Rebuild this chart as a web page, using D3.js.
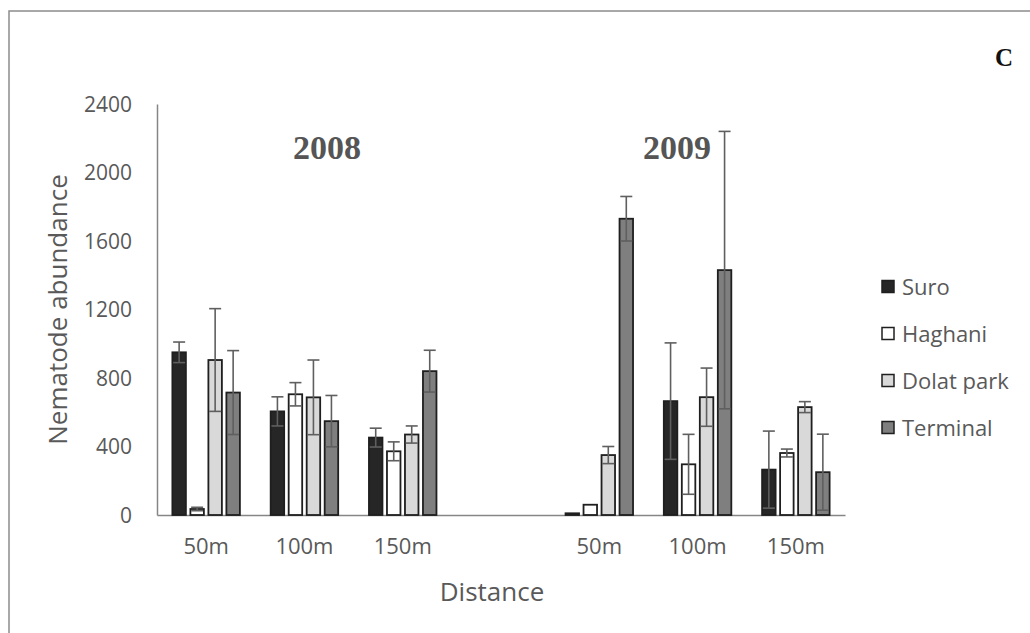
<!DOCTYPE html>
<html>
<head>
<meta charset="utf-8">
<script src="https://cdn.jsdelivr.net/npm/d3@7/dist/d3.min.js"></script>
<style>
  body { margin: 0; background: #fff; }
  svg { display: block; }
  .axis text { font-family: "Open Sans", sans-serif; font-size: 21px; fill: #595959; }
  .axis path { stroke: #868686; stroke-width: 1.5; }
</style>
</head>
<body>
<svg id="chart"></svg>
<script>
const YEARS = ['2008', '2009'];
const DISTANCES = ['50m', '100m', '150m'];
const SERIES = ['Suro', 'Haghani', 'Dolat park', 'Terminal'];
const COLORS = ['#262626', '#ffffff', '#d9d9d9', '#7f7f7f'];

// values: 2008 (50m,100m,150m) then 2009 (50m,100m,150m)
const SURO = [950, 605, 452, 10, 665, 265];
const HAGHANI = [35, 705, 372, 60, 296, 362];
const DOLAT = [905, 687, 470, 350, 688, 630];
const TERMINAL = [715, 548, 840, 1730, 1430, 250];

const SURO_SE = [60, 85, 55, 0, 340, 225];
const HAGHANI_SE = [10, 68, 55, 0, 175, 23];
const DOLAT_SE = [300, 218, 50, 50, 170, 32];
const TERMINAL_SE = [245, 150, 122, 130, 810, 222];

const Y_TICKS = [0, 400, 800, 1200, 1600, 2000, 2400];

const W = 1030, H = 633;
const M = { left: 157, right: 845, top: 104, bottom: 515 };

const svg = d3.select('#chart').attr('width', W).attr('height', H);

// outer frame
svg.append('rect')
   .attr('x', 9).attr('y', 11)
   .attr('width', W + 20).attr('height', H + 20)
   .attr('fill', 'none').attr('stroke', '#8c8c8c').attr('stroke-width', 1.5);

// categories with an empty slot between the two years
const keys = [];
YEARS.forEach((yr, i) => {
  if (i > 0) keys.push('gap');
  DISTANCES.forEach(d => keys.push(yr + '|' + d));
});

const valuesBySeries = [SURO, HAGHANI, DOLAT, TERMINAL];
const errBySeries = [SURO_SE, HAGHANI_SE, DOLAT_SE, TERMINAL_SE];

const data = [];
YEARS.forEach((yr, yi) => {
  DISTANCES.forEach((d, di) => {
    const idx = yi * DISTANCES.length + di;
    SERIES.forEach((s, si) => {
      data.push({ key: yr + '|' + d, series: s, si: si,
                  value: valuesBySeries[si][idx], se: errBySeries[si][idx] });
    });
  });
});

const x = d3.scaleBand().domain(keys).range([M.left, M.right]).padding(0);
const xInner = d3.scaleBand().domain(SERIES).range([0, x.bandwidth()])
                 .paddingInner(0.25).paddingOuter(0.855);
const y = d3.scaleLinear().domain([0, 2400]).range([M.bottom, M.top]);

// axes
const yAxis = svg.append('g').attr('class', 'axis')
  .attr('transform', `translate(${M.left},0)`)
  .call(d3.axisLeft(y).tickValues(Y_TICKS).tickFormat(d3.format('d'))
          .tickSize(0).tickSizeOuter(0).tickPadding(25));
yAxis.selectAll('text').attr('dy', '0.35em');

const xAxis = svg.append('g').attr('class', 'axis')
  .attr('transform', `translate(0,${M.bottom})`)
  .call(d3.axisBottom(x).tickSize(0).tickSizeOuter(0).tickPadding(23)
          .tickFormat(k => k === 'gap' ? '' : k.split('|')[1]));
xAxis.selectAll('text').style('font-size', '22px');

// bars
svg.append('g').selectAll('rect')
  .data(data)
  .join('rect')
  .attr('x', d => x(d.key) + xInner(d.series))
  .attr('y', d => y(d.value))
  .attr('width', xInner.bandwidth())
  .attr('height', d => y(0) - y(d.value))
  .attr('fill', d => COLORS[d.si])
  .attr('stroke', '#1f1f1f')
  .attr('stroke-width', 1.8);

// error bars
const eb = svg.append('g').attr('stroke', '#5f5f5f').attr('stroke-width', 1.6)
  .selectAll('g').data(data.filter(d => d.se > 0)).join('g')
  .attr('transform', d => `translate(${x(d.key) + xInner(d.series) + xInner.bandwidth() / 2},0)`);
eb.append('line')
  .attr('y1', d => y(Math.max(0, d.value - d.se)))
  .attr('y2', d => y(d.value + d.se));
eb.append('line')
  .attr('x1', -6).attr('x2', 6)
  .attr('y1', d => y(d.value + d.se)).attr('y2', d => y(d.value + d.se));
eb.append('line')
  .attr('x1', -6).attr('x2', 6)
  .attr('y1', d => y(Math.max(0, d.value - d.se))).attr('y2', d => y(Math.max(0, d.value - d.se)));

// axis titles
svg.append('text')
   .attr('transform', `translate(67,${(M.top + M.bottom) / 2}) rotate(-90)`)
   .attr('text-anchor', 'middle')
   .style('font-family', '"Open Sans", sans-serif').style('font-size', '26px')
   .attr('fill', '#595959')
   .text('Nematode abundance');

svg.append('text')
   .attr('x', (M.left + M.right) / 2 - 9).attr('y', 601)
   .attr('text-anchor', 'middle')
   .style('font-family', '"Open Sans", sans-serif').style('font-size', '26px')
   .attr('fill', '#595959')
   .text('Distance');

// year labels, placed near the 100m group of each year
const YEAR_SHIFT = [0.73, 0.29];
svg.append('g').selectAll('text')
  .data(YEARS)
  .join('text')
  .attr('x', (d, i) => x(d + '|100m') + x.bandwidth() * YEAR_SHIFT[i])
  .attr('y', 159)
  .attr('text-anchor', 'middle')
  .style('font-family', '"Liberation Serif", "Times New Roman", serif')
  .style('font-size', '34px').style('font-weight', 'bold')
  .attr('fill', '#555555')
  .text(d => d);

// panel letter
svg.append('text')
   .attr('x', 1004).attr('y', 66)
   .attr('text-anchor', 'middle')
   .style('font-family', '"Liberation Serif", "Times New Roman", serif')
   .style('font-size', '25px').style('font-weight', 'bold')
   .attr('fill', '#111')
   .text('C');

// legend
const legend = svg.append('g').selectAll('g')
  .data(SERIES)
  .join('g')
  .attr('transform', (d, i) => `translate(882,${287 + i * 47})`);
legend.append('rect')
  .attr('x', 0).attr('y', -6.5).attr('width', 12).attr('height', 12)
  .attr('fill', (d, i) => COLORS[i])
  .attr('stroke', '#1f1f1f').attr('stroke-width', 1.5);
legend.append('text')
  .attr('x', 20).attr('dy', '0.35em')
  .style('font-family', '"Open Sans", sans-serif').style('font-size', '22px')
  .attr('fill', '#595959')
  .text(d => d);
</script>
</body>
</html>
